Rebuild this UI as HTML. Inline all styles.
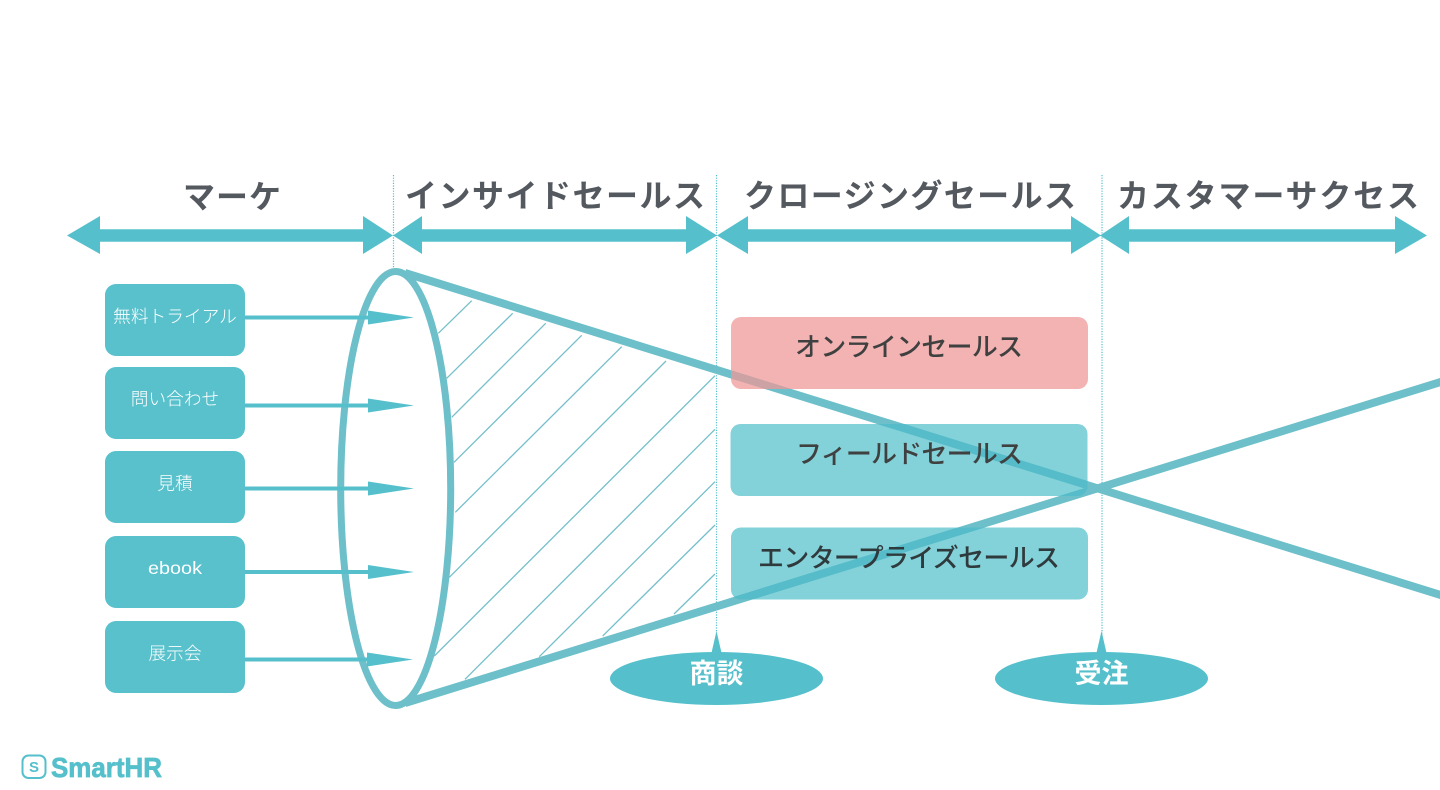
<!DOCTYPE html>
<html lang="ja"><head><meta charset="utf-8"><title>Diagram</title>
<style>
html,body{margin:0;padding:0;background:#fff;width:1440px;height:790px;overflow:hidden}
svg{display:block}
text{font-family:"Liberation Sans","Noto Sans CJK JP",sans-serif}
.h{font-size:32px;font-weight:700;fill:#54585f}
.b{font-size:17.7px;font-weight:300;fill:#fff;text-anchor:middle}
.s{font-size:26px;font-weight:500;fill:#3f4040}
.m{font-size:27px;font-weight:700;fill:#fff;text-anchor:middle}
</style></head><body>
<svg width="1440" height="790" viewBox="0 0 1440 790" xmlns="http://www.w3.org/2000/svg">
<defs><clipPath id="tealBoxes"><rect x="730.5" y="424" width="357" height="72" rx="10"/><rect x="731" y="527.5" width="357" height="72" rx="10"/></clipPath></defs>
<rect width="1440" height="790" fill="#fff"/>
<g stroke="#55c0cb" stroke-width="1.2" stroke-dasharray="1.2 1.4">
<line x1="393.5" y1="175" x2="393.5" y2="268"/>
<line x1="716.5" y1="175" x2="716.5" y2="640"/>
<line x1="1102" y1="175" x2="1102" y2="640"/>
</g>
<text class="h" x="183" y="208" textLength="98" lengthAdjust="spacing">マーケ</text>
<text class="h" x="405" y="207" textLength="300" lengthAdjust="spacing">インサイドセールス</text>
<text class="h" x="744" y="207" textLength="332" lengthAdjust="spacing">クロージングセールス</text>
<text class="h" x="1117" y="207" textLength="302" lengthAdjust="spacing">カスタマーサクセス</text>
<g fill="#55c0cb">
<path d="M67 235.5L100 216V229.2H363V216L393 235.5L363 254V241.8H100V254Z"/>
<path d="M393 235.5L422 216V229.2H686V216L717 235.5L686 254V241.8H422V254Z"/>
<path d="M717 235.5L748 216V229.2H1071V216L1101 235.5L1071 254V241.8H748V254Z"/>
<path d="M1100 235.5L1129 216V229.2H1395V216L1427 235.5L1395 254V241.8H1129V254Z"/>
</g>
<g stroke="#75bfca" stroke-width="1.3">
<line x1="438.3" y1="333.3" x2="471.7" y2="300.7"/>
<line x1="446.7" y1="378.3" x2="512.7" y2="313.3"/>
<line x1="451.7" y1="417.3" x2="545.7" y2="323.3"/>
<line x1="454" y1="462.3" x2="581.7" y2="335.3"/>
<line x1="455.3" y1="512.3" x2="621.7" y2="346.7"/>
<line x1="449.3" y1="577.3" x2="666" y2="361"/>
<line x1="434.3" y1="656" x2="715" y2="375.7"/>
<line x1="465" y1="679.3" x2="715" y2="429.3"/>
<line x1="539.3" y1="656.7" x2="715" y2="481.7"/>
<line x1="602.7" y1="636" x2="715" y2="525"/>
<line x1="674" y1="614" x2="715" y2="574"/>
</g>
<g fill="none" stroke="#6dbfc9">
<ellipse cx="395.7" cy="488.5" rx="55" ry="217" stroke-width="7"/>
<line x1="405" y1="273" x2="1460" y2="601" stroke-width="8"/>
<line x1="405" y1="703" x2="1460" y2="376" stroke-width="8"/>
</g>
<g fill="#58c1cc">
<rect x="105" y="284" width="140" height="72" rx="11"/>
<rect x="105" y="367" width="140" height="72" rx="11"/>
<rect x="105" y="451" width="140" height="72" rx="11"/>
<rect x="105" y="536" width="140" height="72" rx="11"/>
<rect x="105" y="621" width="140" height="72" rx="11"/>
</g>
<g fill="#55c0cb">
<path d="M245 315.5H368V310.5L414 317.5L368 324.5V319.5H245Z"/>
<path d="M245 403.5H368V398.5L414 405.5L368 412.5V407.5H245Z"/>
<path d="M245 486.5H368V481.5L414 488.5L368 495.5V490.5H245Z"/>
<path d="M245 570H368V565L414 572L368 579V574H245Z"/>
<path d="M245 657.5H367V652.5L413 659.5L367 666.5V661.5H245Z"/>
</g>
<text class="b" x="175" y="322.5">無料トライアル</text>
<text class="b" x="175" y="405">問い合わせ</text>
<text class="b" x="175" y="489.5">見積</text>
<text class="b" x="148" y="574" textLength="54" lengthAdjust="spacingAndGlyphs" style="text-anchor:start">ebook</text>
<text class="b" x="175" y="659.5">展示会</text>
<rect x="731" y="317" width="357" height="72" rx="10" fill="#f09797" opacity=".73"/>
<rect x="730.5" y="424" width="357" height="72" rx="10" fill="#55c0cb" opacity=".73"/>
<rect x="731" y="527.5" width="357" height="72" rx="10" fill="#55c0cb" opacity=".73"/>
<g clip-path="url(#tealBoxes)" fill="none" stroke="#56bcc9" stroke-width="8">
<line x1="405" y1="273" x2="1460" y2="601"/>
<line x1="405" y1="703" x2="1460" y2="376"/>
</g>
<text class="s" x="795" y="356" textLength="228" lengthAdjust="spacing">オンラインセールス</text>
<text class="s" x="796" y="463" textLength="227" lengthAdjust="spacing">フィールドセールス</text>
<text class="s" x="758" y="567" textLength="302" lengthAdjust="spacing" style="fill:#2f3a3d">エンタープライズセールス</text>
<g fill="#55c0cb">
<ellipse cx="716.5" cy="678.5" rx="106.5" ry="26.5"/>
<path d="M716.5 631L722 655H711Z"/>
<ellipse cx="1101.5" cy="678.5" rx="106.5" ry="26.5"/>
<path d="M1101.5 631L1107 655H1096Z"/>
</g>
<text class="m" x="716.5" y="683">商談</text>
<text class="m" x="1101.5" y="683">受注</text>
<rect x="22.5" y="755.5" width="23" height="22.5" rx="6" fill="none" stroke="#55c0cb" stroke-width="2"/>
<text x="34" y="772" text-anchor="middle" style="font-size:15px;font-weight:700;fill:#55c0cb">S</text>
<text x="51" y="777" textLength="111" lengthAdjust="spacingAndGlyphs" style="font-size:27.5px;font-weight:700;fill:#55c0cb;stroke:#55c0cb;stroke-width:.7">SmartHR</text>
</svg>
</body></html>
